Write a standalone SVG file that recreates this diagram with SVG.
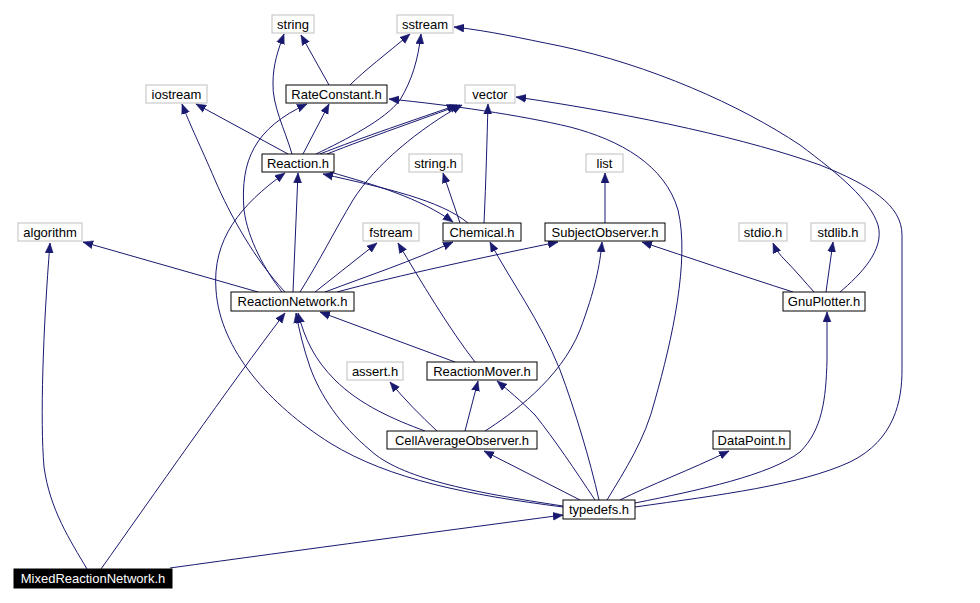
<svg xmlns="http://www.w3.org/2000/svg" width="980" height="603" viewBox="0 0 980 603">
<style>
.n rect{fill:#fff;stroke:#000;stroke-width:1}
.g rect{fill:#fff;stroke:#bfbfbf;stroke-width:1}
.m rect{fill:#000;stroke:#000;stroke-width:1}
text{font-family:"Liberation Sans",Arial,sans-serif;font-size:13px;text-anchor:middle;fill:#000}
.m text{fill:#fff}
#edges path{fill:none;stroke:#191970;stroke-width:1;marker-end:url(#ah)}
</style>
<defs>
<marker id="ah" markerUnits="userSpaceOnUse" markerWidth="12" markerHeight="9" refX="10" refY="4.5" orient="auto">
<path d="M0,0.5 L10,4.5 L0,8.5 z" fill="#191970" stroke="#191970" stroke-width="0.5"/>
</marker>
</defs>
<rect width="980" height="603" fill="#fff"/>
<g id="edges">
<path d="M329,85 L301,35"/>
<path d="M350,85 C 365,70 385,55 410,34"/>
<path d="M292,154 C 285,130 272,105 273,83 C 273,65 278,50 284,34"/>
<path d="M316,154 C 345,140 385,120 400,100 C 412,80 418,60 421,34"/>
<path d="M288,154 L196,104"/>
<path d="M303,154 L329,104"/>
<path d="M320,154 C 360,138 420,118 457,105"/>
<path d="M327,154 C 370,137 425,118 460,105"/>
<path d="M330,172 C 375,185 420,198 453,222"/>
<path d="M468,223 C 440,200 385,188 323,174"/>
<path d="M484,223 C 486,180 487,140 488,104"/>
<path d="M460,223 L443,173"/>
<path d="M605,223 L605,173"/>
<path d="M258,292 L83,242"/>
<path d="M285,292 C 255,260 230,215 215,180 C 200,145 190,125 182,104"/>
<path d="M282,292 C 265,270 248,240 244,210 C 240,160 255,128 307,104"/>
<path d="M293,292 L298,173"/>
<path d="M563,507 C 470,495 390,480 330,443 C 270,405 220,350 216,290 C 212,240 240,205 285,173"/>
<path d="M563,506 C 470,492 400,478 370,450 C 340,425 320,395 310,367 C 304,350 299,330 296,313"/>
<path d="M425,431 C 395,420 360,405 335,380 C 315,360 305,340 298,313"/>
<path d="M300,292 C 320,260 335,230 353,200 C 375,165 420,128 462,105"/>
<path d="M315,292 L377,243"/>
<path d="M325,292 C 370,275 410,262 453,242"/>
<path d="M337,292 C 400,275 480,258 558,242"/>
<path d="M455,362 L320,312"/>
<path d="M475,362 C 450,330 420,280 398,243"/>
<path d="M437,431 C 420,415 405,400 390,382"/>
<path d="M465,431 L478,381"/>
<path d="M485,431 C 510,415 560,380 580,330 C 595,290 600,265 602,242"/>
<path d="M580,500 L484,451"/>
<path d="M595,500 C 575,470 555,440 535,415 C 520,400 508,390 497,381"/>
<path d="M599,500 C 590,460 575,410 560,370 C 540,320 510,280 490,242"/>
<path d="M607,500 C 625,470 645,440 655,400 C 672,340 690,260 678,210 C 665,165 620,140 570,127 C 520,115 450,105 389,99"/>
<path d="M635,507 C 720,495 800,485 850,462 C 895,440 902,400 902,370 L902,235 C 902,205 870,185 820,165 C 750,140 640,115 516,97"/>
<path d="M840,292 C 860,275 885,250 878,225 C 870,200 840,175 800,145 C 740,105 650,65 560,46 C 520,38 490,31 454,27"/>
<path d="M814,292 C 805,282 795,270 785,260 C 780,255 776,250 773,243"/>
<path d="M826,292 L833,242"/>
<path d="M793,292 C 740,275 690,258 642,242"/>
<path d="M635,503 C 700,490 770,475 800,452 C 822,430 826,400 827,360 L827,312"/>
<path d="M620,500 C 650,485 690,470 729,451"/>
<path d="M87,569 C 70,540 50,510 44,467 C 40,420 43,330 50,243"/>
<path d="M101,569 C 150,500 230,385 285,313"/>
<path d="M170,568 C 300,550 450,530 563,515"/>
</g>
<g id="string" class="g"><rect x="272" y="15" width="42" height="18"/><text x="293" y="29">string</text></g>
<g id="sstream" class="g"><rect x="397" y="15" width="56" height="18"/><text x="425" y="29">sstream</text></g>
<g id="iostream" class="g"><rect x="146" y="85" width="61" height="18"/><text x="176.5" y="99">iostream</text></g>
<g id="RateConstant" class="n"><rect x="286" y="85" width="101" height="18"/><text x="336.5" y="99">RateConstant.h</text></g>
<g id="vector" class="g"><rect x="465" y="85" width="50" height="18"/><text x="490" y="99">vector</text></g>
<g id="Reaction" class="n"><rect x="262" y="154" width="72" height="18"/><text x="298" y="168">Reaction.h</text></g>
<g id="string_h" class="g"><rect x="409" y="154" width="53" height="18"/><text x="435.5" y="168">string.h</text></g>
<g id="list" class="g"><rect x="586" y="154" width="37" height="18"/><text x="604.5" y="168">list</text></g>
<g id="algorithm" class="g"><rect x="18" y="223" width="64" height="18"/><text x="50" y="237">algorithm</text></g>
<g id="fstream" class="g"><rect x="363" y="223" width="56" height="18"/><text x="391" y="237">fstream</text></g>
<g id="Chemical" class="n"><rect x="443" y="223" width="78" height="18"/><text x="482" y="237">Chemical.h</text></g>
<g id="SubjectObserver" class="n"><rect x="545" y="223" width="120" height="18"/><text x="605" y="237">SubjectObserver.h</text></g>
<g id="stdio" class="g"><rect x="739" y="223" width="48" height="18"/><text x="763" y="237">stdio.h</text></g>
<g id="stdlib" class="g"><rect x="811" y="223" width="54" height="18"/><text x="838" y="237">stdlib.h</text></g>
<g id="ReactionNetwork" class="n"><rect x="231" y="292" width="123" height="19"/><text x="292.5" y="306">ReactionNetwork.h</text></g>
<g id="GnuPlotter" class="n"><rect x="783" y="292" width="82" height="19"/><text x="824" y="306">GnuPlotter.h</text></g>
<g id="assert" class="g"><rect x="347" y="362" width="56" height="18"/><text x="375" y="376">assert.h</text></g>
<g id="ReactionMover" class="n"><rect x="427" y="362" width="110" height="18"/><text x="482" y="376">ReactionMover.h</text></g>
<g id="CellAverageObserver" class="n"><rect x="387" y="431" width="150" height="18"/><text x="462" y="445">CellAverageObserver.h</text></g>
<g id="DataPoint" class="n"><rect x="713" y="431" width="77" height="18"/><text x="751.5" y="445">DataPoint.h</text></g>
<g id="typedefs" class="n"><rect x="563" y="500" width="72" height="19"/><text x="599" y="514">typedefs.h</text></g>
<g id="MixedReactionNetwork" class="m"><rect x="14" y="569" width="158" height="19"/><text x="93" y="583">MixedReactionNetwork.h</text></g>
</svg>
